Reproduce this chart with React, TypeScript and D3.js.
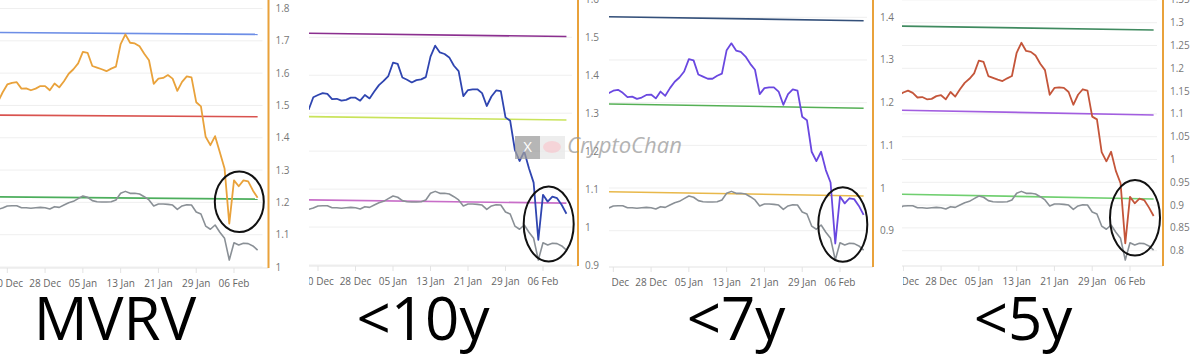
import * as d3 from 'd3';
import React from 'react';

// daily points, 18 Dec 2025 .. 11 Feb 2026
const dates = d3.timeDay.range(new Date(2025, 11, 18), new Date(2026, 1, 12));

const tickLabels = ['20 Dec', '28 Dec', '05 Jan', '13 Jan', '21 Jan', '29 Jan', '06 Feb'];
const tickDates = [
  new Date(2025, 11, 20), new Date(2025, 11, 28), new Date(2026, 0, 5), new Date(2026, 0, 13),
  new Date(2026, 0, 21), new Date(2026, 0, 29), new Date(2026, 1, 6),
];

const mvrv = [
  1.51, 1.54, 1.565, 1.57, 1.572, 1.552, 1.553, 1.547, 1.552, 1.56, 1.56, 1.547, 1.568, 1.556,
  1.575, 1.598, 1.612, 1.63, 1.666, 1.663, 1.622, 1.617, 1.612, 1.606, 1.614, 1.62, 1.69, 1.72,
  1.694, 1.692, 1.683, 1.66, 1.64, 1.567, 1.583, 1.585, 1.594, 1.583, 1.545, 1.573, 1.59, 1.587,
  1.51, 1.497, 1.403, 1.377, 1.405, 1.355, 1.305, 1.134, 1.268, 1.25, 1.268, 1.265, 1.237, 1.214,
];
const mvrv10y = [
  1.309, 1.342, 1.348, 1.353, 1.351, 1.337, 1.338, 1.333, 1.335, 1.341, 1.341, 1.333, 1.348, 1.339,
  1.357, 1.374, 1.385, 1.398, 1.433, 1.43, 1.394, 1.388, 1.381, 1.387, 1.389, 1.395, 1.449, 1.478,
  1.46, 1.456, 1.447, 1.425, 1.411, 1.345, 1.361, 1.363, 1.363, 1.353, 1.319, 1.344, 1.36, 1.358,
  1.289, 1.28, 1.203, 1.174, 1.199, 1.155, 1.117, 0.966, 1.085, 1.067, 1.08, 1.076, 1.058, 1.035,
];
const mvrv7y = [
  1.214, 1.222, 1.228, 1.23, 1.223, 1.213, 1.214, 1.209, 1.212, 1.218, 1.219, 1.21, 1.226, 1.216,
  1.234, 1.249, 1.259, 1.273, 1.302, 1.299, 1.266, 1.261, 1.256, 1.256, 1.263, 1.268, 1.323, 1.339,
  1.322, 1.319, 1.308, 1.291, 1.277, 1.22, 1.234, 1.236, 1.236, 1.226, 1.195, 1.22, 1.231, 1.228,
  1.167, 1.159, 1.085, 1.063, 1.085, 1.042, 1.013, 0.87, 0.98, 0.964, 0.976, 0.974, 0.958, 0.937,
];
const mvrv5y = [
  1.136, 1.141, 1.147, 1.151, 1.146, 1.136, 1.137, 1.132, 1.133, 1.139, 1.141, 1.132, 1.148, 1.138,
  1.154, 1.168, 1.177, 1.189, 1.217, 1.214, 1.183, 1.179, 1.175, 1.172, 1.178, 1.183, 1.234, 1.256,
  1.238, 1.236, 1.228, 1.21, 1.196, 1.142, 1.157, 1.158, 1.157, 1.148, 1.12, 1.142, 1.154, 1.151,
  1.094, 1.088, 1.016, 0.996, 1.017, 0.975, 0.948, 0.816, 0.918, 0.904, 0.914, 0.911, 0.895, 0.876,
];
// grey line, BTC price ($k) on a hidden axis
const price = [
  87.0, 87.75, 88.9, 89.0, 89.0, 87.9, 87.9, 87.6, 87.9, 88.1, 87.9, 87.2, 88.5, 88.1,
  89.4, 90.7, 91.5, 93.0, 94.5, 93.8, 91.9, 91.3, 91.1, 91.1, 91.3, 92.3, 96.0, 97.1,
  96.0, 96.0, 95.6, 94.1, 92.3, 88.9, 90.0, 90.0, 89.8, 89.4, 87.0, 88.9, 89.6, 89.4,
  85.5, 84.4, 77.6, 75.8, 78.2, 74.1, 70.7, 58.5, 68.2, 66.9, 67.9, 67.7, 66.4, 64.1,
];
const priceDomain = [54, 204.75];

// threshold bands: [value at first date, value at last date]
const mvrvBands = [[1.726, 1.72], [1.47, 1.465], [1.217, 1.21]];
const bands10y = [[1.5105, 1.502], [1.291, 1.282], [1.0715, 1.063]];
const bands7y = [[1.4016, 1.392], [1.197, 1.187], [0.9915, 0.9814]];
const bands5y = [[1.2927, 1.284], [1.1085, 1.0975], [0.9243, 0.9133]];

const ticks1 = [1, 1.1, 1.2, 1.3, 1.4, 1.5, 1.6, 1.7, 1.8];
const ticks2 = [0.9, 1, 1.1, 1.2, 1.3, 1.4, 1.5, 1.6];
const ticks3 = [0.9, 1, 1.1, 1.2, 1.3, 1.4];
const ticks4 = [0.8, 0.85, 0.9, 0.95, 1, 1.05, 1.1, 1.15, 1.2, 1.25, 1.3, 1.35];

const panels = [
  {
    id: 'p1', title: 'MVRV', titleX: 115, series: mvrv, color: '#e9a23b', bands: mvrvBands,
    bandColors: ['#6d8ee6', '#d9534f', '#4cae5c'], ticks: ticks1,
    left: 0, labelLeft: 0, x0: 7.3, x1: 234, axisX: 268.5, bottom: 268,
    yDom: [1.0, 1.8], yPix: [267, 8.5], ring: [239.3, 201.7, 24.5, 30.3],
  },
  {
    id: 'p2', title: '<10y', titleX: 423, series: mvrv10y, color: '#2f45b0', bands: bands10y,
    bandColors: ['#8b2f8f', '#c9e35a', '#c86ec8'], ticks: ticks2,
    left: 309, labelLeft: 309, x0: 318, x1: 543, axisX: 578, bottom: 266,
    yDom: [0.9, 1.5], yPix: [265, 37.3], ring: [548.7, 224, 25, 37.5],
  },
  {
    id: 'p3', title: '<7y', titleX: 736, series: mvrv7y, color: '#6a48e0', bands: bands7y,
    bandColors: ['#34507a', '#55b055', '#e8b84a'], ticks: ticks3,
    left: 609, labelLeft: 612, x0: 613.3, x1: 840, axisX: 873, bottom: 267,
    yDom: [0.9, 1.4], yPix: [230.7, 17.3], ring: [842.8, 224.5, 24.5, 37.2],
  },
  {
    id: 'p4', title: '<5y', titleX: 1023, series: mvrv5y, color: '#c4553a', bands: bands5y,
    bandColors: ['#3f8a5f', '#a25ee0', '#70cf70'], ticks: ticks4,
    left: 902, labelLeft: 903, x0: 903.3, x1: 1130, axisX: 1163, bottom: 266,
    yDom: [0.8, 1.3], yPix: [250.7, 22.7], ring: [1135, 217.7, 25, 37.8],
  },
];

const font = '"Open Sans", "Noto Sans", sans-serif';

function Panel({ p }: { p: (typeof panels)[number] }) {
  const x = d3.scaleTime().domain([tickDates[0], tickDates[6]]).range([p.x0, p.x1]);
  const y = d3.scaleLinear().domain(p.yDom).range(p.yPix);
  const yPrice = d3.scaleLinear().domain(priceDomain).range([268, 0]);
  const line = d3.line<number>().x((_, i) => x(dates[i])).y(v => y(v));
  const priceLine = d3.line<number>().x((_, i) => x(dates[i])).y(v => yPrice(v));
  const first = dates[0];
  const last = dates[dates.length - 1];
  const fmt = d3.format('~g');

  return (
    <g>
      <defs>
        <clipPath id={`clip-${p.id}`}>
          <rect x={p.left} y={0} width={p.axisX - p.left - 1} height={p.bottom + 1} />
        </clipPath>
        <clipPath id={`lab-${p.id}`}>
          <rect x={p.labelLeft} y={p.bottom} width={p.axisX - p.labelLeft + 20} height={40} />
        </clipPath>
      </defs>
      {/* gridlines */}
      {p.ticks.map(t => (
        <line key={t} x1={p.left} x2={p.axisX - 6} y1={y(t)} y2={y(t)} stroke="#efefef" strokeWidth={1} />
      ))}
      {/* x axis */}
      <line x1={p.left} x2={p.axisX} y1={p.bottom} y2={p.bottom} stroke="#e3e3e3" />
      <g clipPath={`url(#lab-${p.id})`}>
        {tickDates.map((d, i) => (
          <g key={i} transform={`translate(${x(d)},${p.bottom})`}>
            <line y2={5} stroke="#e3e3e3" />
            <text y={19} textAnchor="middle" fontSize={10} fill="#666" fontFamily={font}>
              {tickLabels[i]}
            </text>
          </g>
        ))}
      </g>
      <g clipPath={`url(#clip-${p.id})`} fill="none" strokeLinejoin="round">
        {p.bands.map((b, i) => (
          <line key={i} x1={x(first)} x2={x(last)} y1={y(b[0])} y2={y(b[1])}
            stroke={p.bandColors[i]} strokeWidth={1.6} />
        ))}
        <path d={priceLine(price) ?? ''} stroke="#8a9096" strokeWidth={1.6} />
        <path d={line(p.series) ?? ''} stroke={p.color} strokeWidth={1.8} />
      </g>
      {/* right axis */}
      <line x1={p.axisX} x2={p.axisX} y1={0} y2={p.bottom} stroke="#e9a23b" strokeWidth={2} />
      {p.ticks.map(t => (
        <text key={t} x={p.axisX + 7} y={y(t)} dy="0.35em" fontSize={10} fill="#777" fontFamily={font}>
          {fmt(t)}
        </text>
      ))}
      <ellipse cx={p.ring[0]} cy={p.ring[1]} rx={p.ring[2]} ry={p.ring[3]}
        fill="none" stroke="#111" strokeWidth={2} />
      <text x={p.titleX} y={340} textAnchor="middle" fontSize={60} fill="#000" fontFamily={font}>
        {p.title}
      </text>
    </g>
  );
}

export default function App() {
  return (
    <svg width={1200} height={364} style={{ position: 'absolute', left: 0, top: 0, background: '#fff' }}>
      <rect width={1200} height={364} fill="#fff" />
      {panels.map(p => <Panel key={p.id} p={p} />)}
      {/* watermark */}
      <g opacity={0.75}>
        <rect x={515} y={136} width={25} height={23} fill="#9e9e9e" />
        <text x={527.5} y={152} textAnchor="middle" fontSize={15} fill="#fff" fontFamily={font}>X</text>
        <rect x={540} y={136} width={25} height={23} fill="#e8e8e8" />
        <ellipse cx={552} cy={147} rx={9} ry={6} fill="#f2c6cc" />
        <text x={567} y={153} fontSize={22} fontStyle="italic" fill="#9a9a9a" fontFamily={font}>
          CryptoChan
        </text>
      </g>
    </svg>
  );
}
